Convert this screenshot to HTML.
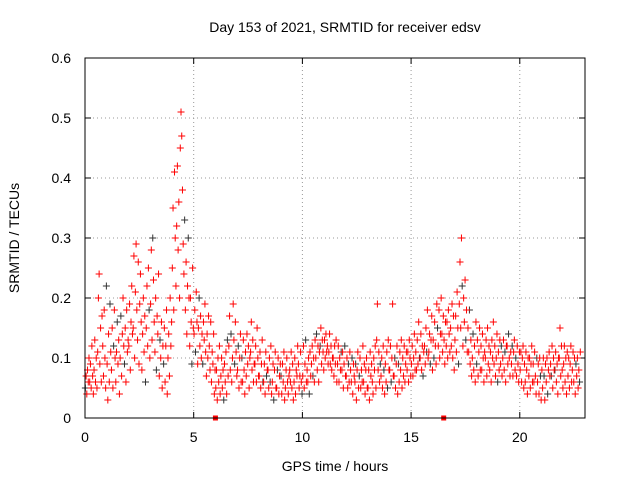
<!DOCTYPE html>
<html><head><meta charset="utf-8"><style>
body{margin:0;background:#fff;width:640px;height:480px;overflow:hidden}
svg{display:block;font-family:"Liberation Sans",sans-serif}
</style></head><body>
<svg id="chart" width="640" height="480">
<text x="345" y="32" font-size="14" text-anchor="middle">Day 153 of 2021, SRMTID for receiver edsv</text>
<text x="335" y="471" font-size="14" text-anchor="middle">GPS time / hours</text>
<text transform="translate(19,238) rotate(-90)" font-size="14" text-anchor="middle">SRMTID / TECUs</text>
<g id="grid"></g><g id="ticks"></g><g id="points"></g>
<rect x="85" y="58" width="500" height="360" fill="none" stroke="#000"/>
</svg>
<script>
const xTicks=[0,5,10,15,20];
const yTicks=[0,0.1,0.2,0.3,0.4,0.5,0.6];
const yTickLabels=["0","0.1","0.2","0.3","0.4","0.5","0.6"];
const binStart=0, binWidth=0.2;
const binValues=[
[5,7,4,8,6,10],[6,9,5,12,7,4],[8,13,6,10,5,11],[20,24,9,15,6,17],[12,7,18,10,5,22],
[9,3,14,6,19,11],[8,15,5,12,18,10],[6,11,16,9,13,4],[10,17,7,14,20,12],[9,15,6,18,11,13],
[12,19,8,16,22,14],[15,27,10,21,29,18],[13,26,9,19,24,16],[8,14,20,11,17,6],[15,22,12,25,18,10],
[19,28,13,30,23,16],[11,20,8,17,14,24],[7,13,10,16,5,12],[9,15,6,12,18,4],[10,14,7,20,12,16],
[25,35,18,41,30,22],[32,42,28,36,20,45],[51,47,38,29,24,33],[18,26,14,22,30,20],[12,20,16,9,25,15],
[14,18,11,21,16,9],[15,20,12,17,10,14],[9,16,13,19,11,7],[14,10,17,12,8,16],[6,11,9,14,4,8],
[5,8,3,10,6,12],[4,7,10,5,8,3],[9,6,11,4,13,7],[12,17,8,14,6,10],[19,13,9,16,11,7],
[8,12,5,10,14,6],[10,6,13,8,4,11],[7,14,9,12,5,10],[11,16,8,13,6,9],[9,12,6,15,10,7],
[7,11,5,9,13,6],[6,9,4,11,7,8],[8,5,10,6,12,4],[6,9,3,8,11,5],[5,8,10,4,7,9],
[7,4,9,6,11,3],[5,8,10,6,4,7],[8,6,11,5,9,3],[6,10,4,8,7,12],[9,5,7,11,6,4],
[7,12,5,9,13,6],[8,6,10,4,11,7],[9,12,7,10,6,13],[10,14,8,12,6,11],[12,15,9,13,11,8],
[13,10,14,11,12,9],[11,14,9,12,8,10],[10,7,12,9,13,6],[9,12,6,10,8,11],[8,11,5,9,12,7],
[7,10,5,9,6,11],[8,6,10,4,9,7],[6,9,3,8,11,5],[7,10,5,8,6,12],[6,9,4,8,10,5],
[5,8,3,11,7,9],[6,4,10,8,12,5],[13,19,8,11,6,9],[7,10,5,12,8,4],[9,6,11,5,13,8],
[8,12,6,10,19,7],[7,10,5,9,12,4],[9,6,11,8,13,5],[10,7,12,6,9,11],[8,11,6,13,10,7],
[9,12,7,10,14,8],[11,8,13,9,16,10],[10,14,8,12,7,11],[12,9,15,11,18,10],[11,14,9,13,17,8],
[13,10,16,12,9,19],[15,12,18,10,14,20],[14,11,17,13,9,16],[12,16,10,18,14,11],[15,12,19,10,17,8],
[13,17,11,21,15,9],[19,26,15,30,22,12],[20,16,23,13,18,11],[15,11,18,9,13,7],[10,14,8,12,6,16],
[9,13,7,11,15,8],[12,8,14,10,6,11],[10,13,7,15,9,12],[8,11,6,13,10,16],[9,12,7,10,14,6],
[11,8,13,9,12,7],[10,13,8,11,6,12],[12,9,14,10,7,11],[9,12,7,11,13,8],[10,7,12,9,6,11],
[8,11,6,10,12,5],[9,6,11,8,4,10],[7,10,5,9,12,6],[9,6,11,7,4,10],[6,9,4,10,7,3],
[8,5,10,7,3,9],[6,10,4,8,11,7],[9,7,12,5,10,8],[8,11,6,9,4,10],[10,15,7,12,8,5],
[9,12,6,10,4,11],[7,10,5,9,12,6],[8,11,6,10,4,9],[7,10,5,8,6,11]
];
const gapMarks=[6.0,16.5];
const NS="http://www.w3.org/2000/svg";
const X0=85,X1=585,Y0=418,Y1=58,XMAX=23,YMAX=0.6;
function sx(t){return X0+(t/XMAX)*(X1-X0);}
function sy(v){return Y0-(v/YMAX)*(Y0-Y1);}
function mk(tag,a,parent){const e=document.createElementNS(NS,tag);for(const k in a)e.setAttribute(k,a[k]);parent.appendChild(e);return e;}
const grid=document.getElementById('grid'),ticks=document.getElementById('ticks'),pts=document.getElementById('points');
xTicks.forEach(t=>{
 const g=mk('line',{x1:sx(t),x2:sx(t),y1:Y1,y2:Y0,stroke:'#999','stroke-dasharray':'1,3'},grid);
 
 
 mk('line',{x1:sx(t),x2:sx(t),y1:Y0,y2:Y0-6,stroke:'#000'},ticks);
 mk('line',{x1:sx(t),x2:sx(t),y1:Y1,y2:Y1+6,stroke:'#000'},ticks);
 const l=mk('text',{x:sx(t),y:Y0+24,'font-size':14,'text-anchor':'middle'},ticks);l.textContent=t;
 
 
});
yTicks.forEach((v,i)=>{
 const g=mk('line',{x1:X0,x2:X1,y1:sy(v),y2:sy(v),stroke:'#999','stroke-dasharray':'1,3'},grid);
 
 
 mk('line',{x1:X0,x2:X0+6,y1:sy(v),y2:sy(v),stroke:'#000'},ticks);
 mk('line',{x1:X1,x2:X1-6,y1:sy(v),y2:sy(v),stroke:'#000'},ticks);
 const l=mk('text',{x:X0-14,y:sy(v)+5,'font-size':14,'text-anchor':'end'},ticks);l.textContent=yTickLabels[i];
 
 
});
let d='',dk='';
binValues.forEach((arr,b)=>{
 arr.forEach((v,i)=>{
  const x=sx(binStart+b*binWidth+(i+0.5)*binWidth/arr.length),y=sy(v/100);
  const s=`M${x-3.5},${y}h7M${x},${y-3.5}v7`;
  if((b+i)%9===0)dk+=s;else d+=s;
 });
});
const pd=mk('path',{d:dk,stroke:'#333','stroke-width':1,fill:'none'},pts);


const pr=mk('path',{d:d,stroke:'#f00','stroke-width':1,fill:'none'},pts);


gapMarks.forEach(t=>{
 const r=mk('rect',{x:sx(t)-2.5,y:Y0-2.5,width:5,height:5,fill:'#f00'},pts);
 
 
});
</script>
</body></html>
